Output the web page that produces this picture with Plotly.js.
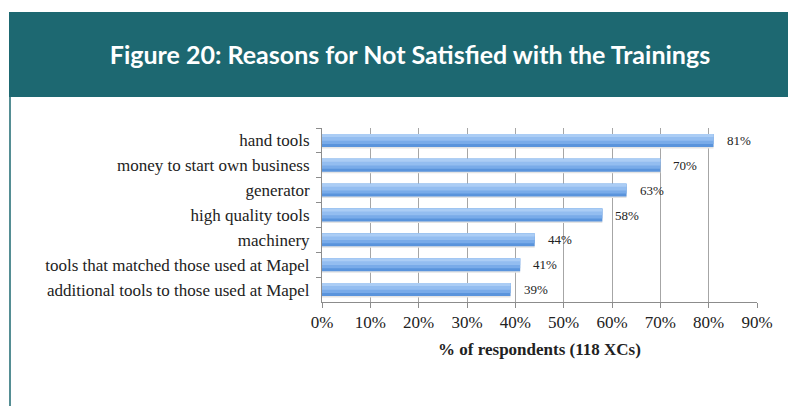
<!DOCTYPE html>
<html><head><meta charset="utf-8">
<script src="https://cdn.plot.ly/plotly-3.0.1.min.js"></script>
<style>html,body{margin:0;padding:0;background:#fff;}#chart{width:788px;height:406px;}</style>
</head><body><div id="chart"></div>
<script>
const categories = [
  "hand tools",
  "money to start own business",
  "generator",
  "high quality tools",
  "machinery",
  "tools that matched those used at Mapel",
  "additional tools to those used at Mapel"
];
const values = [81, 70, 63, 58, 44, 41, 39];
const valueLabels = ["81%", "70%", "63%", "58%", "44%", "41%", "39%"];
const xTickVals = [0,10,20,30,40,50,60,70,80,90];

const L = 322, R = 757, T = 128, B = 302, W = 788, H = 406;
const px = x => (x - L) / (R - L);
const py = y => (B - y) / (B - T);
const teal = "#1d6871";
const serif = "Liberation Serif, Times New Roman, serif";

function barLayer(width, offset, color) {
  return {type:"bar", orientation:"h", y:categories, x:values, width:width, offset:offset,
    marker:{color:color, line:{width:0}}, hoverinfo:"skip", showlegend:false};
}
const traces = [
  barLayer(0.56, -0.24, "#e4e4e4"),
  barLayer(0.52, -0.26, "#5a94dc"),
  barLayer(0.40, -0.26, "#79abe9"),
  barLayer(0.27, -0.26, "#93bdf0"),
  barLayer(0.12, -0.26, "#abcdf5")
];

const annotations = categories.map((c,i)=>({
  x: values[i], y: c, xref:"x", yref:"y", text: valueLabels[i],
  showarrow:false, xanchor:"left", xshift:11,
  font:{family:serif, size:13, color:"#222"}
}));

const layout = {
  width:W, height:H,
  margin:{l:L, r:W-R, t:T, b:H-B},
  paper_bgcolor:"#fff", plot_bgcolor:"#fff",
  barmode:"overlay",
  title:{text:"<b>Figure 20: Reasons for Not Satisfied with the Trainings</b>",
    font:{family:"Lato", size:25, color:"#ffffff"},
    x:410/W, xref:"container", xanchor:"center",
    y:1-55/H, yref:"container", yanchor:"middle"},
  xaxis:{range:[0,90], tickvals:xTickVals, ticktext:xTickVals.map(v=>v+"%"),
    showgrid:true, gridcolor:"#a6a6a6", gridwidth:1,
    showline:true, linecolor:"#8c8c8c", linewidth:1,
    ticks:"outside", ticklen:5, tickcolor:"#8c8c8c",
    tickfont:{family:serif, size:17, color:"#222"},
    zeroline:false, fixedrange:true,
    title:{text:"<b>% of respondents (118 XCs)</b>", standoff:11,
      font:{family:serif, size:17, color:"#222"}}},
  yaxis:{type:"category", autorange:"reversed",
    showline:true, linecolor:"#8c8c8c", linewidth:1,
    ticks:"outside", ticklen:5, tickcolor:"#8c8c8c", tickson:"boundaries",
    showgrid:false, ticklabelstandoff:8,
    tickfont:{family:serif, size:17, color:"#222"}, fixedrange:true},
  shapes:[
    {type:"rect", xref:"paper", yref:"paper", x0:px(9), x1:px(790), y0:py(97), y1:py(12),
     fillcolor:teal, line:{width:0}, layer:"below"},
    {type:"line", xref:"paper", yref:"paper", x0:px(10), x1:px(10), y0:py(97), y1:py(410),
     line:{color:teal, width:1.5}, layer:"below"}
  ],
  annotations: annotations
};
Plotly.newPlot("chart", traces, layout, {displayModeBar:false, staticPlot:true});
</script></body></html>
